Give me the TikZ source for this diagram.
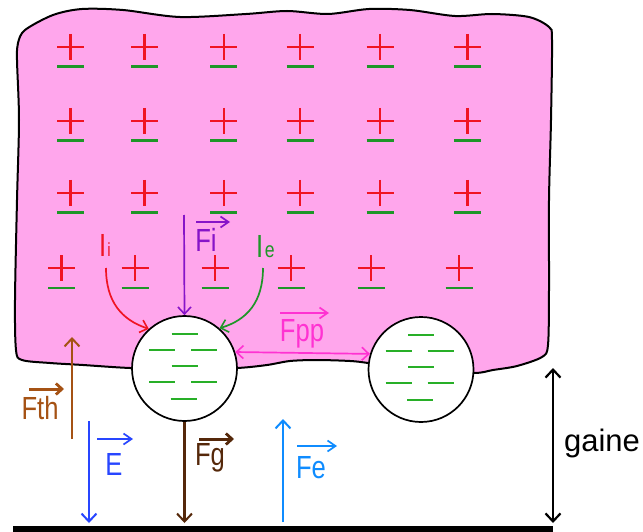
\documentclass[tikz,border=0pt]{standalone}
\usepackage{fontspec}
\setmainfont{Liberation Sans}
\newfontfamily\lbl[FakeStretch=0.8]{Liberation Sans}
\usetikzlibrary{arrows.meta}
\definecolor{blobpink}{RGB}{255,166,236}
\definecolor{plusred}{RGB}{240,20,35}
\definecolor{minusgreen}{RGB}{30,150,40}
\definecolor{dashgreen}{RGB}{40,175,40}
\definecolor{fthcol}{RGB}{165,82,20}
\definecolor{ecol}{RGB}{40,70,255}
\definecolor{fgcol}{RGB}{85,40,10}
\definecolor{fecol}{RGB}{15,140,255}
\definecolor{fppcol}{RGB}{255,50,210}
\definecolor{ficol}{RGB}{135,20,200}
\definecolor{iicol}{RGB}{240,20,35}
\definecolor{iecol}{RGB}{30,150,40}
\tikzset{
  lab/.style={inner sep=0pt, font=\lbl\fontsize{32}{34}\selectfont},
  force/.style={line width=2.2pt, -{Straight Barb[length=8pt,width=15pt,line width=2pt]}},
  thinforce/.style={line width=1.7pt, -{Straight Barb[length=7pt,width=13pt,line width=1.6pt]}},
  vec/.style={line width=1.8pt, -{Straight Barb[length=8pt,width=11pt,line width=1.7pt]}},
  boldvec/.style={line width=3pt, -{Straight Barb[length=6pt,width=11pt,line width=2.8pt]}},
  drop/.style={circle, draw=black, line width=1.7pt, fill=white, minimum size=105pt, inner sep=0pt},
  pm/.style={line width=2.5pt},
}
\begin{document}
\begin{tikzpicture}[x=1pt,y=-1pt]
\useasboundingbox (0,0) rectangle (643,532);
% blob
\draw[line width=2pt, fill=blobpink] plot[smooth cycle, tension=0.5] coordinates {
(18,43) (25,30) (53,15) (82,9) (123,10) (180,17) (246,14) (287,11) (328,14) (369,9)
(410,10) (455,16) (492,14) (529,17) (549,27) (552,40) (551,120) (549,200) (549,290)
(548,345) (542,357) (517,366) (493,370) (474,373) (421,371) (368,363) (350,361)
(317,360) (290,361) (267,365) (237,368) (184,369) (130,368) (83,365) (50,363)
(22,360) (16,350) (15,300) (17,200) (19,120) (17,60)};
% plus / minus rows
\foreach \y in {47,121,193}{
  \foreach \x in {70.5,144.7,223.8,300,380,467.6}{
    \draw[pm, plusred] (\x-13.5,\y) -- (\x+13.5,\y) (\x,\y-13) -- (\x,\y+13);
    \draw[pm, minusgreen] (\x-13.5,\y+19.5) -- (\x+13.5,\y+19.5);
  }
}
\foreach \x in {61.5,135,215,291,371,459}{
  \draw[pm, plusred] (\x-13.5,268) -- (\x+13.5,268) (\x,255) -- (\x,281);
  \draw[pm, minusgreen] (\x-13.5,288) -- (\x+13.5,288);
}
% droplets
\node[drop] (c1) at (184.5,368.5) {};
\node[drop] (c2) at (421,369.5) {};
\foreach \c in {c1,c2}{
  \foreach \dx/\dy in {0/-34.5,-22.5/-18.5,19.5/-18.5,0/-2.5,-22.5/13.5,19.5/13.5,-1/30.5}{
    \draw[line width=2pt, dashgreen] ([shift={(\dx-13,\dy)}]\c.center) -- ([shift={(\dx+13,\dy)}]\c.center);
  }
}
% coordinates
\coordinate (fiTop) at (184,215);
\coordinate (iiStart) at (106,268);
\coordinate (ieStart) at (263,268);
\coordinate (fthA) at (72,439);
\coordinate (fthB) at (72,337);
\coordinate (eA) at (89,421);
\coordinate (eB) at (89,523);
\coordinate (fgB) at (184.5,523);
\coordinate (feA) at (283,522);
\coordinate (feB) at (283,419);
\coordinate (gA) at (553,368);
\coordinate (gB) at (553,523);
% force arrows
\draw[thinforce, ficol] (fiTop) -- (c1.north);
\draw[thinforce, iicol] (iiStart) .. controls (106,302) and (122,320) .. (c1.132);
\draw[thinforce, iecol] (ieStart) .. controls (263,302) and (247,320) .. (c1.49);
\draw[line width=1.7pt, fppcol, {Straight Barb[length=7pt,width=13pt,line width=1.6pt]}-{Straight Barb[length=7pt,width=13pt,line width=1.6pt]}] (c1.18) -- (c2.163);
\draw[force, fthcol] (fthA) -- (fthB);
\draw[force, ecol] (eA) -- (eB);
\draw[force, fgcol] (c1.south) -- (fgB);
\draw[force, fecol] (feA) -- (feB);
\draw[line width=2.6pt, {Straight Barb[length=8pt,width=15pt,line width=2.2pt]}-{Straight Barb[length=8pt,width=15pt,line width=2.2pt]}] (gA) -- (gB);
% ground line
\fill[black] (13,525.5) rectangle (553,532);
% labels
\node[lab, ficol] (fi) at (206,240) {Fi};
\draw[vec, ficol] (196,222) -- (230,222);
\node[lab, fppcol] (fpp) at (302,334) {Fpp};
\draw[vec, fppcol] (280,313) -- (329,313);
\node[lab, fthcol] (fth) at (40,408) {Fth};
\draw[boldvec, fthcol] (29,389) -- (64,389);
\node[lab, ecol] (e) at (114,464) {E};
\draw[vec, ecol] (97,439) -- (133,439);
\node[lab, fgcol] (fg) at (210,458) {Fg};
\draw[boldvec, fgcol] (199,439) -- (234,439);
\node[lab, fecol] (fe) at (311,468) {Fe};
\draw[vec, fecol] (297,446) -- (337,446);
\node[lab, iicol, anchor=base west] (ii) at (99,256) {I\kern1pt{\fontsize{19}{19}\selectfont i}};
\node[lab, iecol, anchor=base west] (ie) at (256,257) {I\kern1.5pt{\fontsize{22}{22}\selectfont e}};
\node[inner sep=0pt, font=\fontsize{31}{33}\selectfont] (gaine) at (602,443) {gaine};
\end{tikzpicture}
\end{document}
